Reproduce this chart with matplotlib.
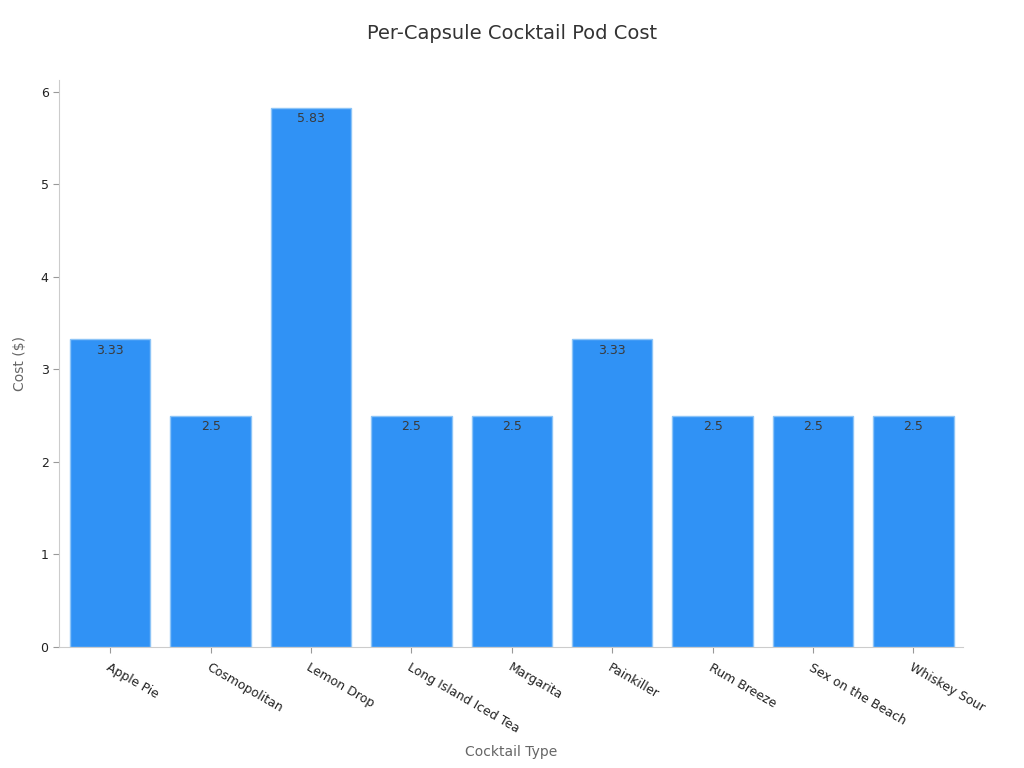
import matplotlib.pyplot as plt
import numpy as np

cocktails = ['Apple Pie', 'Cosmopolitan', 'Lemon Drop', 'Long Island Iced Tea',
             'Margarita', 'Painkiller', 'Rum Breeze', 'Sex on the Beach', 'Whiskey Sour']
costs = [3.33, 2.5, 5.83, 2.5, 2.5, 3.33, 2.5, 2.5, 2.5]

fig = plt.figure(figsize=(10.24, 7.68), dpi=100)
ax = fig.add_axes([0.0576, 0.1576, 0.8824, 0.7384])

x = np.arange(len(cocktails))
bars = ax.bar(x, costs, width=0.8, color='#3092f5', edgecolor='#8cc4f7', linewidth=1)

for b, v in zip(bars, costs):
    ax.text(b.get_x() + b.get_width() / 2, v - 0.05, f'{v:g}',
            ha='center', va='top', fontsize=9, color='#3a3a3a')

ax.set_xlim(-0.51, 8.49)
ax.set_ylim(0, 6.13)
ax.set_xticks(x)
ax.set_xticklabels(cocktails, rotation=-30, ha='left', rotation_mode='anchor',
                   fontsize=9, color='#222222')
ax.set_yticks(range(0, 7))
ax.tick_params(axis='y', labelsize=9, colors='#222222', length=4)
ax.tick_params(axis='x', length=4, pad=6)
ax.tick_params(axis='both', color='#999999')

for s in ['top', 'right']:
    ax.spines[s].set_visible(False)
for s in ['left', 'bottom']:
    ax.spines[s].set_color('#cccccc')

ax.set_ylabel('Cost ($)', fontsize=10, color='#666666')
ax.yaxis.set_label_coords(-0.035, 0.5)
ax.set_xlabel('Cocktail Type', fontsize=10, color='#666666')
ax.xaxis.set_label_coords(0.5, -0.172)
fig.text(0.5, 0.957, 'Per-Capsule Cocktail Pod Cost', ha='center', va='center',
         fontsize=14, color='#333333')

fig.savefig('out.png', dpi=100)
